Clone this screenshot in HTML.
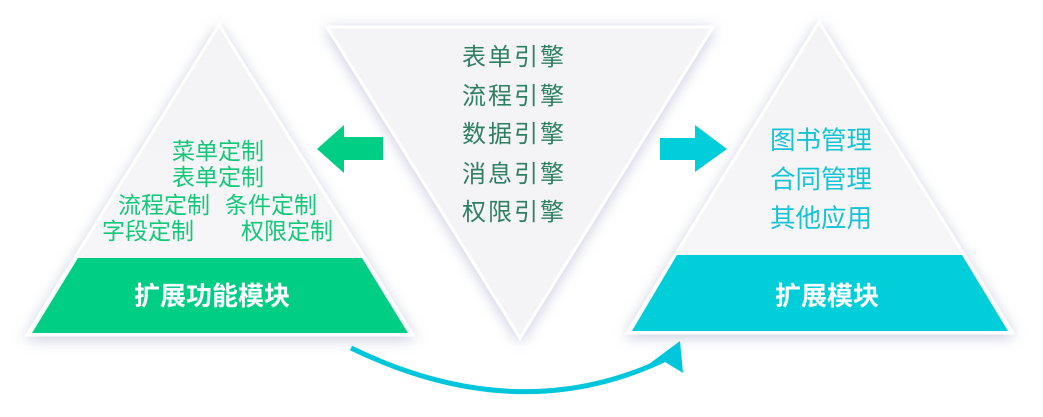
<!DOCTYPE html>
<html><head><meta charset="utf-8"><style>
html,body{margin:0;padding:0;background:#fff;}
body{width:1043px;height:417px;position:relative;overflow:hidden;font-family:"Liberation Sans","Noto Sans CJK SC",sans-serif;}
</style></head><body>
<svg width="1043" height="417" viewBox="0 0 1043 417" xmlns="http://www.w3.org/2000/svg" style="position:absolute;left:0;top:0">
<defs>
<filter id="sh" x="-20%" y="-20%" width="140%" height="140%">
<feDropShadow dx="0" dy="3" stdDeviation="7" flood-color="#8a90b8" flood-opacity="0.45"/>
</filter>
<linearGradient id="g1" x1="0" y1="0" x2="0" y2="1"><stop offset="0" stop-color="#f3f3f5"/><stop offset="1" stop-color="#f7f7f9"/></linearGradient>
</defs>
<polygon points="327,27 713,27 520,338" fill="#f4f4f6" stroke="#fff" stroke-width="3" filter="url(#sh)"/>
<polygon points="219,25 413,335 27,335" fill="url(#g1)" stroke="#fff" stroke-width="3" filter="url(#sh)"/>
<polygon points="78,258 362,258 408,333 32,333" fill="#00ce84"/>
<polygon points="819,22 1013,333 627,333" fill="url(#g1)" stroke="#fff" stroke-width="3" filter="url(#sh)"/>
<polygon points="677,255 962,255 1008,331 632,331" fill="#00ced9"/>
<polygon points="317,149 344,125 344,137 383,137 383,160 344,160 344,173" fill="#00ce84"/>
<polygon points="727,149 695,125 695,138 660,138 660,160 695,160 695,172" fill="#00ced9"/>
<path d="M351,348 Q520,430 668,358" fill="none" stroke="#00c6dc" stroke-width="5"/>
<polygon points="680,341 683,373 665,362 645,367" fill="#00c6dc"/>
<g font-size="24" fill="#2f7f63" text-anchor="middle" font-family="Liberation Sans,Noto Sans CJK SC,sans-serif">
<text x="514" y="65" letter-spacing="2">表单引擎</text>
<text x="514" y="104" letter-spacing="2">流程引擎</text>
<text x="514" y="142" letter-spacing="2">数据引擎</text>
<text x="514" y="182" letter-spacing="2">消息引擎</text>
<text x="514" y="220" letter-spacing="2">权限引擎</text>
</g>
<g font-size="23" fill="#14c779" text-anchor="middle" font-family="Liberation Sans,Noto Sans CJK SC,sans-serif">
<text x="218" y="159">菜单定制</text>
<text x="218" y="185">表单定制</text>
<text x="164" y="213">流程定制</text>
<text x="271" y="213">条件定制</text>
<text x="148" y="239">字段定制</text>
<text x="287" y="239">权限定制</text>
</g>
<text x="212" y="305" font-size="26" font-weight="bold" fill="#fff" text-anchor="middle" font-family="Liberation Sans,Noto Sans CJK SC,sans-serif">扩展功能模块</text>
<g font-size="25.5" fill="#14c4d4" text-anchor="middle" font-family="Liberation Sans,Noto Sans CJK SC,sans-serif">
<text x="821" y="149">图书管理</text>
<text x="821" y="188">合同管理</text>
<text x="821" y="227">其他应用</text>
</g>
<text x="827" y="305" font-size="26" font-weight="bold" fill="#fff" text-anchor="middle" font-family="Liberation Sans,Noto Sans CJK SC,sans-serif">扩展模块</text>
</svg>
</body></html>
